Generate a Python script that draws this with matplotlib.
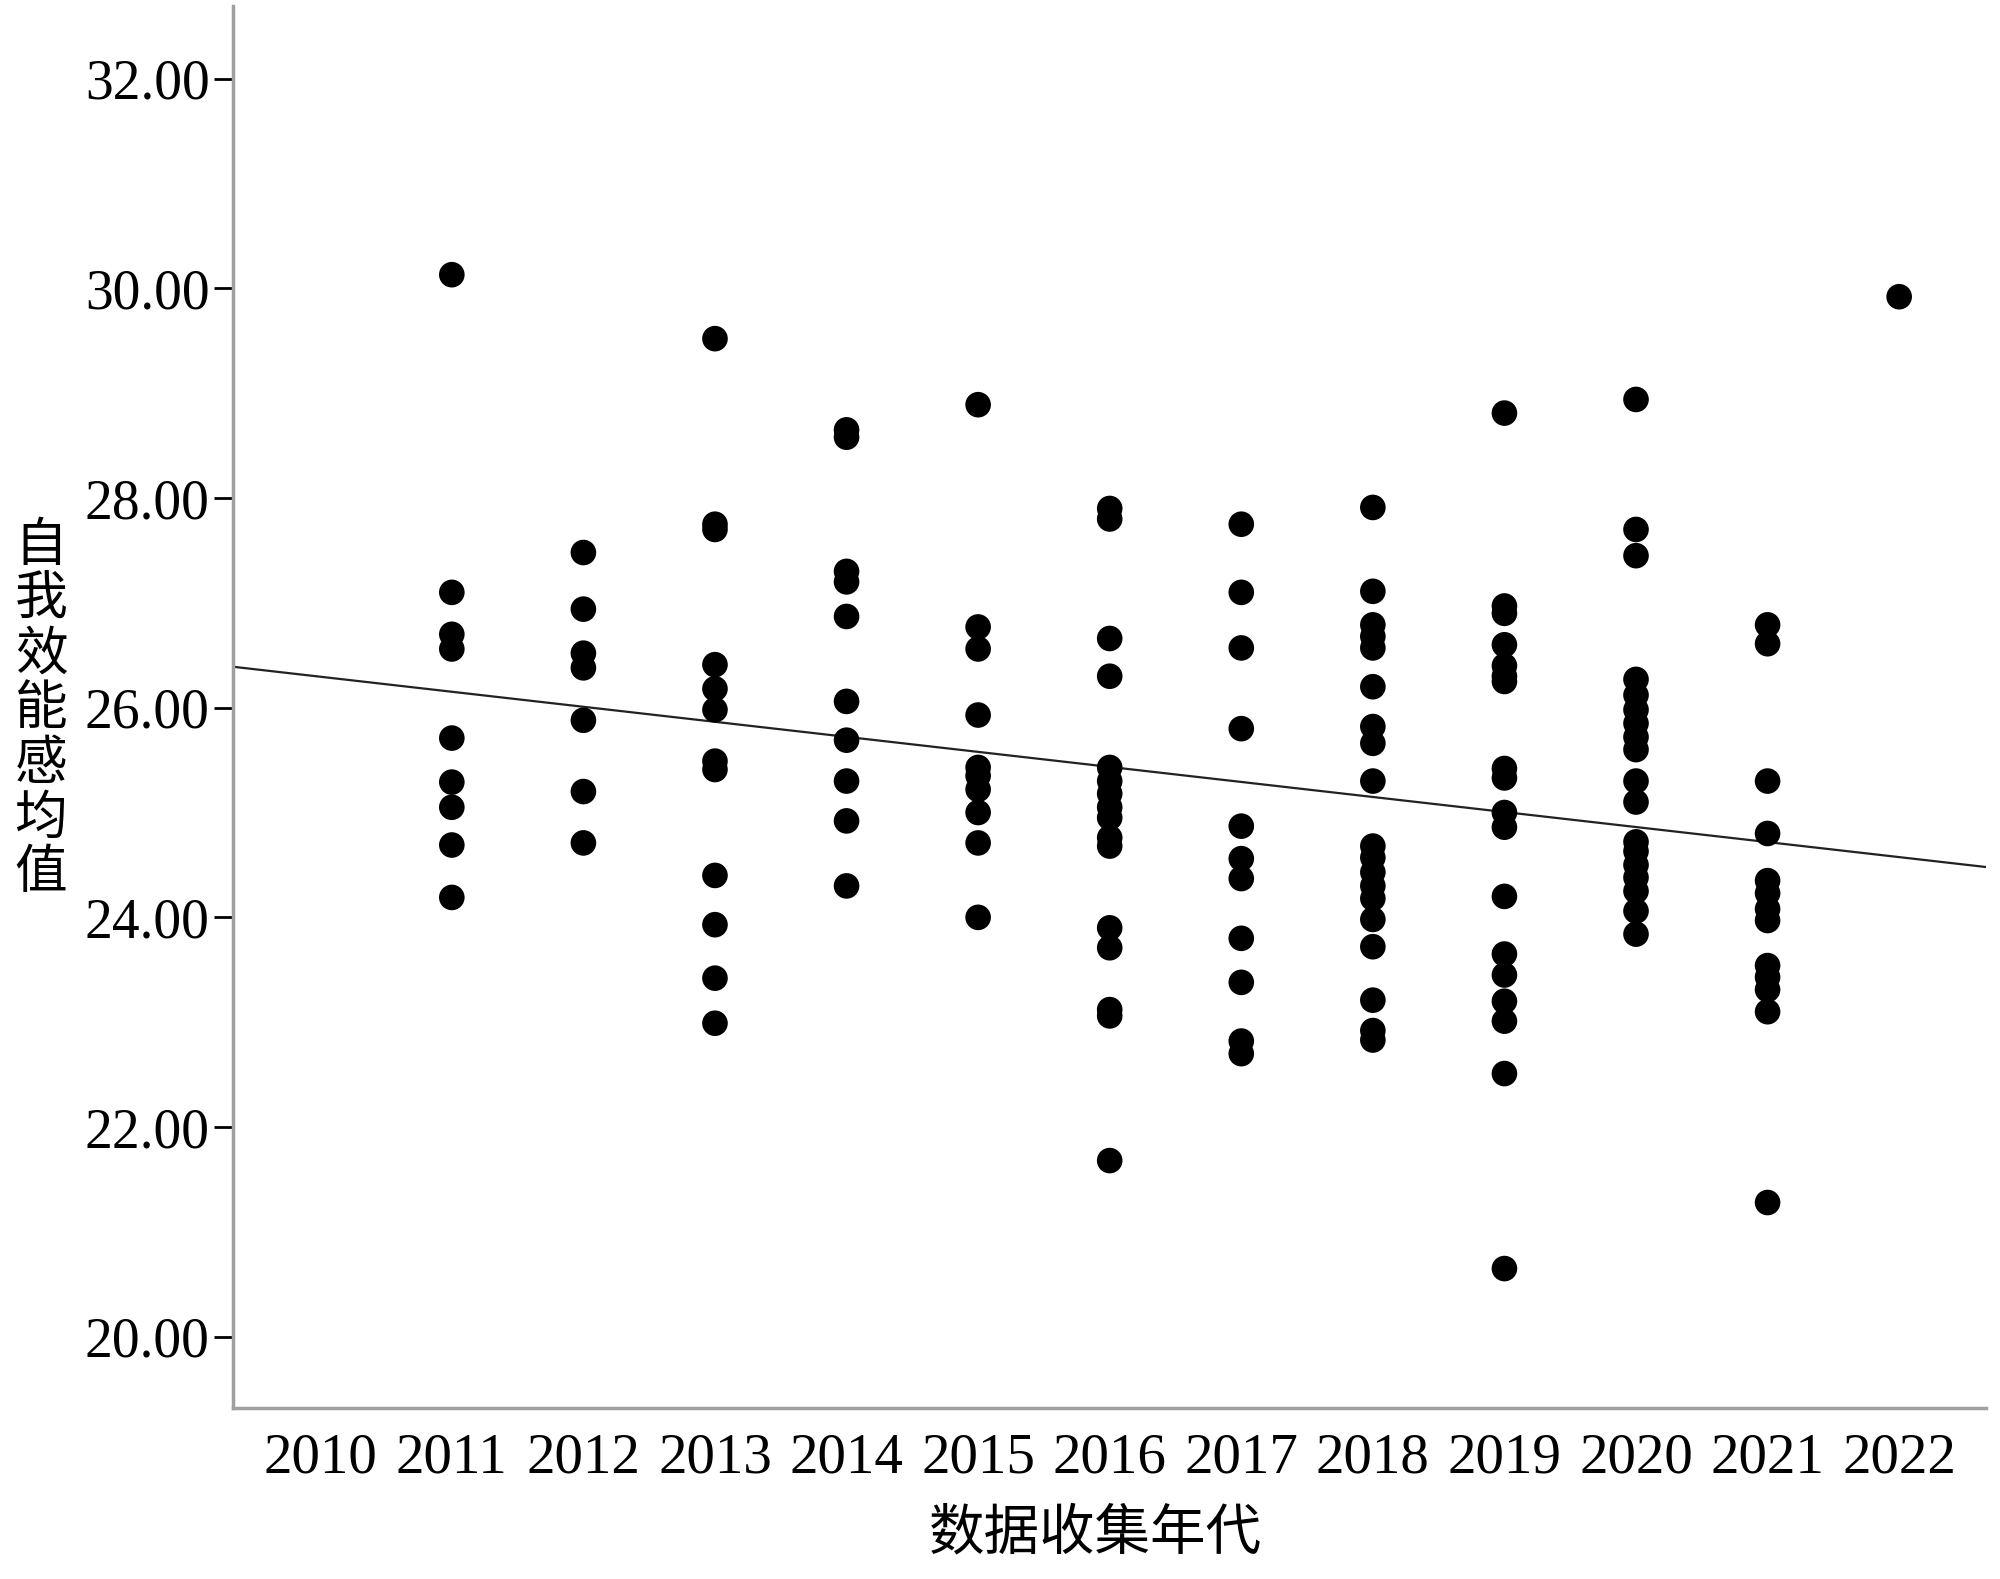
import numpy as np
import matplotlib
matplotlib.use("Agg")
import matplotlib.pyplot as plt

# 每年的自我效能感均值
years = [2011, 2012, 2013, 2014, 2015, 2016, 2017, 2018, 2019, 2020, 2021, 2022]
v2011 = [30.13, 27.10, 26.70, 26.56, 25.71, 25.29, 25.05, 24.69, 24.19]
v2012 = [27.48, 26.94, 26.52, 26.38, 25.88, 25.20, 24.71]
v2013 = [29.52, 27.75, 27.70, 26.41, 26.18, 25.98, 25.49, 25.41, 24.40, 23.93, 23.42, 22.99]
v2014 = [28.65, 28.58, 27.30, 27.20, 26.87, 26.06, 25.69, 25.30, 24.92, 24.30]
v2015 = [28.89, 26.77, 26.56, 25.93, 25.43, 25.35, 25.22, 25.00, 24.71, 24.00]
v2016 = [27.90, 27.80, 26.66, 26.30, 25.43, 25.30, 25.18, 25.05, 24.95, 24.76, 24.68,
         23.90, 23.71, 23.12, 23.06, 21.68]
v2017 = [27.75, 27.10, 26.57, 25.80, 24.87, 24.56, 24.37, 23.80, 23.38, 22.82, 22.70]
v2018 = [27.91, 27.11, 26.79, 26.68, 26.57, 26.20, 25.82, 25.66, 25.30, 24.68, 24.57,
         24.43, 24.30, 24.18, 23.98, 23.72, 23.21, 22.92, 22.83]
v2019 = [28.81, 26.97, 26.90, 26.60, 26.40, 26.30, 26.25, 25.42, 25.33, 25.00, 24.86,
         24.20, 23.65, 23.45, 23.20, 23.01, 22.51, 20.65]
v2020 = [28.94, 27.70, 27.45, 26.27, 26.12, 25.98, 25.85, 25.72, 25.60, 25.30, 25.10,
         24.72, 24.63, 24.50, 24.38, 24.25, 24.06, 23.84]
v2021 = [26.79, 26.61, 25.30, 24.80, 24.35, 24.23, 24.08, 23.97, 23.54, 23.43, 23.31,
         23.10, 21.28]
v2022 = [29.92]
values = [v2011, v2012, v2013, v2014, v2015, v2016, v2017, v2018, v2019, v2020, v2021, v2022]

# 拟合线（图中直线的两端）
fit_years = [2009.34, 2022.66]
fit_vals = [26.39, 24.48]

xticks = list(range(2010, 2023))
yticks = [20, 22, 24, 26, 28, 30, 32]

fig = plt.figure(figsize=(20, 15.79), dpi=100)
ax = fig.add_axes([0.1167, 0.1083, 0.8763, 0.8877])

xs = []
ys = []
for yr, vals in zip(years, values):
    xs += [yr] * len(vals)
    ys += vals
ax.scatter(xs, ys, s=340, color='black', edgecolors='none', zorder=3)

ax.plot(fit_years, fit_vals, '-', color='#222222', lw=1.6, zorder=2)

ax.set_xlim(2009.34, 2022.66)
ax.set_ylim(19.32, 32.69)
ax.set_xticks(xticks)
ax.set_yticks(yticks)
ax.set_yticklabels(['%.2f' % t for t in yticks])

for s in ['top', 'right']:
    ax.spines[s].set_visible(False)
for s in ['left', 'bottom']:
    ax.spines[s].set_color('#a0a0a0')
    ax.spines[s].set_linewidth(2.5)

ax.tick_params(axis='y', length=14, width=2, color='black', pad=3,
               labelsize=40, direction='out')
ax.tick_params(axis='x', length=0, pad=18, labelsize=41)
for lab in ax.get_xticklabels() + ax.get_yticklabels():
    lab.set_family(['Liberation Serif', 'DejaVu Serif'])

cjk = ['Noto Sans CJK SC', 'DejaVu Sans']
fig.text(0.5475, 0.0285, '数据收集年代', ha='center', va='center',
         fontsize=40, family=cjk)
fig.text(0.0205, 0.551, '\n'.join('自我效能感均值'), ha='center', va='center',
         fontsize=38, family=cjk, linespacing=0.99)

fig.savefig('out.png', dpi=100)
